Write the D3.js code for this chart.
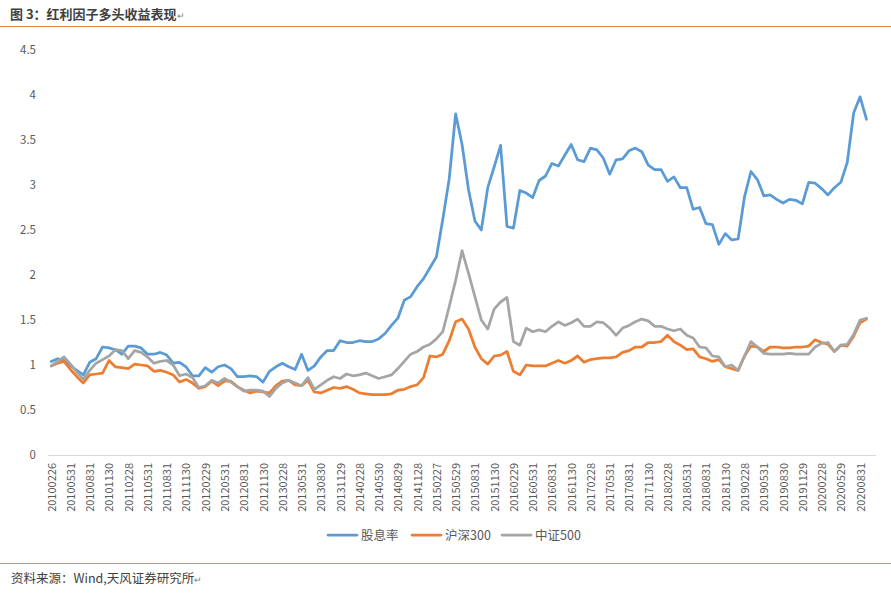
<!DOCTYPE html>
<html><head><meta charset="utf-8">
<script src="https://cdn.jsdelivr.net/npm/d3@7"></script>
<style>body{margin:0;background:#fff}svg{display:block}</style>
</head><body>
<svg id="c" width="891" height="597"></svg>
<script>
const dates = [
"20100226","20100331","20100430","20100531","20100630","20100730","20100831","20100930","20101029","20101130","20101231",
"20110131","20110228","20110331","20110429","20110531","20110630","20110729","20110831","20110930","20111031","20111130","20111230",
"20120131","20120229","20120330","20120427","20120531","20120629","20120731","20120831","20120928","20121031","20121130","20121231",
"20130131","20130228","20130329","20130426","20130531","20130628","20130731","20130830","20130930","20131031","20131129","20131231",
"20140130","20140228","20140331","20140430","20140530","20140630","20140731","20140829","20140930","20141031","20141128","20141231",
"20150130","20150227","20150331","20150430","20150529","20150630","20150731","20150831","20150930","20151030","20151130","20151231",
"20160129","20160229","20160331","20160429","20160531","20160630","20160729","20160831","20160930","20161031","20161130","20161230",
"20170126","20170228","20170331","20170428","20170531","20170630","20170731","20170831","20170929","20171031","20171130","20171229",
"20180131","20180228","20180330","20180427","20180531","20180629","20180731","20180831","20180928","20181031","20181130","20181228",
"20190131","20190228","20190329","20190430","20190531","20190628","20190731","20190830","20190930","20191031","20191129","20191231",
"20200123","20200228","20200331","20200430","20200529","20200630","20200731","20200831","20200930"];

const dividendYield = [
1.04,1.07,1.05,0.99,0.94,0.89,1.03,1.07,1.20,1.19,
1.17,1.12,1.21,1.21,1.19,1.12,1.12,1.14,1.11,1.02,
1.03,0.98,0.88,0.88,0.97,0.92,0.98,1.00,0.96,0.87,
0.87,0.88,0.87,0.81,0.93,0.98,1.02,0.98,0.95,1.12,
0.94,0.99,1.09,1.16,1.16,1.27,1.25,1.25,1.27,1.26,
1.26,1.29,1.35,1.44,1.52,1.72,1.76,1.87,1.96,2.08,
2.20,2.62,3.07,3.79,3.45,2.95,2.60,2.50,2.97,3.20,
3.44,2.54,2.52,2.94,2.91,2.86,3.05,3.10,3.24,3.21,
3.33,3.45,3.28,3.26,3.41,3.39,3.30,3.12,3.28,3.29,
3.38,3.41,3.37,3.22,3.17,3.17,3.04,3.09,2.97,2.97,
2.73,2.75,2.57,2.56,2.34,2.46,2.39,2.40,2.87,3.15,
3.06,2.88,2.89,2.84,2.80,2.84,2.83,2.79,3.03,3.02,
2.96,2.89,2.97,3.03,3.25,3.80,3.98,3.73];

const hs300 = [
0.99,1.02,1.04,0.95,0.87,0.80,0.89,0.90,0.91,1.05,
0.98,0.97,0.96,1.01,1.00,0.99,0.93,0.94,0.92,0.89,
0.81,0.84,0.80,0.74,0.76,0.82,0.77,0.82,0.82,0.76,
0.72,0.69,0.71,0.70,0.69,0.77,0.82,0.83,0.78,0.77,
0.83,0.70,0.69,0.72,0.75,0.74,0.76,0.73,0.69,0.68,
0.67,0.67,0.67,0.68,0.72,0.73,0.76,0.78,0.86,1.10,
1.09,1.12,1.27,1.48,1.51,1.40,1.20,1.07,1.01,1.10,
1.11,1.15,0.93,0.89,1.00,0.99,0.99,0.99,1.02,1.05,
1.02,1.05,1.10,1.03,1.06,1.07,1.08,1.08,1.09,1.14,
1.16,1.20,1.20,1.25,1.25,1.26,1.33,1.26,1.22,1.17,
1.18,1.09,1.07,1.04,1.06,0.98,0.96,0.94,1.10,1.21,
1.20,1.15,1.20,1.20,1.19,1.19,1.20,1.20,1.21,1.28,
1.25,1.23,1.15,1.22,1.21,1.32,1.47,1.51];

const zz500 = [
0.99,1.04,1.09,1.01,0.92,0.84,0.94,1.02,1.06,1.10,
1.17,1.16,1.07,1.16,1.14,1.09,1.02,1.04,1.05,1.00,
0.88,0.90,0.86,0.75,0.77,0.83,0.80,0.85,0.81,0.76,
0.71,0.72,0.72,0.71,0.65,0.74,0.80,0.83,0.80,0.77,
0.86,0.73,0.78,0.83,0.87,0.85,0.90,0.88,0.89,0.91,
0.88,0.85,0.87,0.89,0.96,1.04,1.12,1.15,1.20,1.23,
1.29,1.37,1.65,1.94,2.27,2.02,1.76,1.50,1.40,1.62,
1.70,1.75,1.26,1.22,1.41,1.37,1.39,1.37,1.43,1.48,
1.44,1.47,1.51,1.43,1.43,1.48,1.47,1.41,1.33,1.41,
1.44,1.48,1.51,1.49,1.43,1.43,1.40,1.38,1.40,1.33,
1.30,1.20,1.19,1.10,1.09,0.98,1.00,0.94,1.10,1.26,
1.20,1.13,1.12,1.12,1.12,1.13,1.12,1.12,1.12,1.20,
1.24,1.25,1.15,1.22,1.23,1.34,1.50,1.52];

const yTicks = [0,0.5,1,1.5,2,2.5,3,3.5,4,4.5];
const seriesNames = ["股息率","沪深300","中证500"];
const seriesColors = ["#5B9BD5","#ED7D31","#A5A5A5"];
const titleText = "图 3：红利因子多头收益表现";
const sourceText = "资料来源：Wind,天风证券研究所";

const svg = d3.select("#c");
const FONT = "'Noto Sans CJK SC','Noto Sans',sans-serif";

// title & rules
svg.append("text").attr("x",10).attr("y",19)
  .attr("font-family",FONT).attr("font-size",13).attr("font-weight","bold").attr("fill","#404040")
  .text(titleText)
  .append("tspan").attr("font-size",9).attr("font-weight","normal").attr("fill","#808080").text("↵");
svg.append("line").attr("x1",0).attr("x2",891).attr("y1",26.5).attr("y2",26.5)
  .attr("stroke","#E3893C").attr("stroke-width",1.2);
svg.append("line").attr("x1",0).attr("x2",891).attr("y1",563.5).attr("y2",563.5)
  .attr("stroke","#E3893C").attr("stroke-width",1.2);
svg.append("text").attr("x",11).attr("y",583)
  .attr("font-family",FONT).attr("font-size",12.5).attr("fill","#404040")
  .text(sourceText)
  .append("tspan").attr("font-size",9).attr("fill","#808080").text("↵");

const x = d3.scalePoint().domain(dates).range([51.2, 866.5]);
const y = d3.scaleLinear().domain([0,4.5]).range([455,50]);

// y axis
const ya = svg.append("g").attr("transform","translate(48,0)")
  .call(d3.axisLeft(y).tickValues(yTicks).tickSize(0).tickPadding(12).tickFormat(d=>String(d)));
ya.select(".domain").remove();
ya.selectAll("text").attr("font-family",FONT).attr("font-size",11.5).attr("fill","#595959");

// x axis
const xa = svg.append("g").attr("transform","translate(0,455)")
  .call(d3.axisBottom(x).tickValues(dates.filter((d,i)=>i%3===0)).tickSize(0));
xa.select(".domain").remove();
xa.selectAll("text")
  .attr("transform","rotate(-90)").attr("x",-8).attr("y",0).attr("dy","0.36em")
  .style("text-anchor","end")
  .attr("font-family",FONT).attr("font-size",11).attr("fill","#595959");
const step = x.step();
svg.append("line").attr("x1",x(dates[0])-step/2).attr("x2",x(dates[dates.length-1])+step*1.5)
  .attr("y1",455.5).attr("y2",455.5).attr("stroke","#D9D9D9").attr("stroke-width",1);

// lines
const allSeries = [dividendYield, hs300, zz500];
const line = d3.line().x((d,i)=>x(dates[i])).y(d=>y(d));
allSeries.forEach((s,k)=>{
  svg.append("path").datum(s).attr("d",line).attr("fill","none")
    .attr("stroke",seriesColors[k]).attr("stroke-width",2.75)
    .attr("stroke-linejoin","round").attr("stroke-linecap","round");
});

// legend
const legX = [328,412,502];
seriesNames.forEach((n,k)=>{
  const g = svg.append("g").attr("transform",`translate(${legX[k]},535)`);
  g.append("line").attr("x1",0).attr("x2",29).attr("y1",0).attr("y2",0)
    .attr("stroke",seriesColors[k]).attr("stroke-width",2.75).attr("stroke-linecap","round");
  g.append("text").attr("x",33).attr("y",4.5).attr("font-family",FONT).attr("font-size",12.5)
    .attr("fill","#595959").text(n);
});
</script>
</body></html>
